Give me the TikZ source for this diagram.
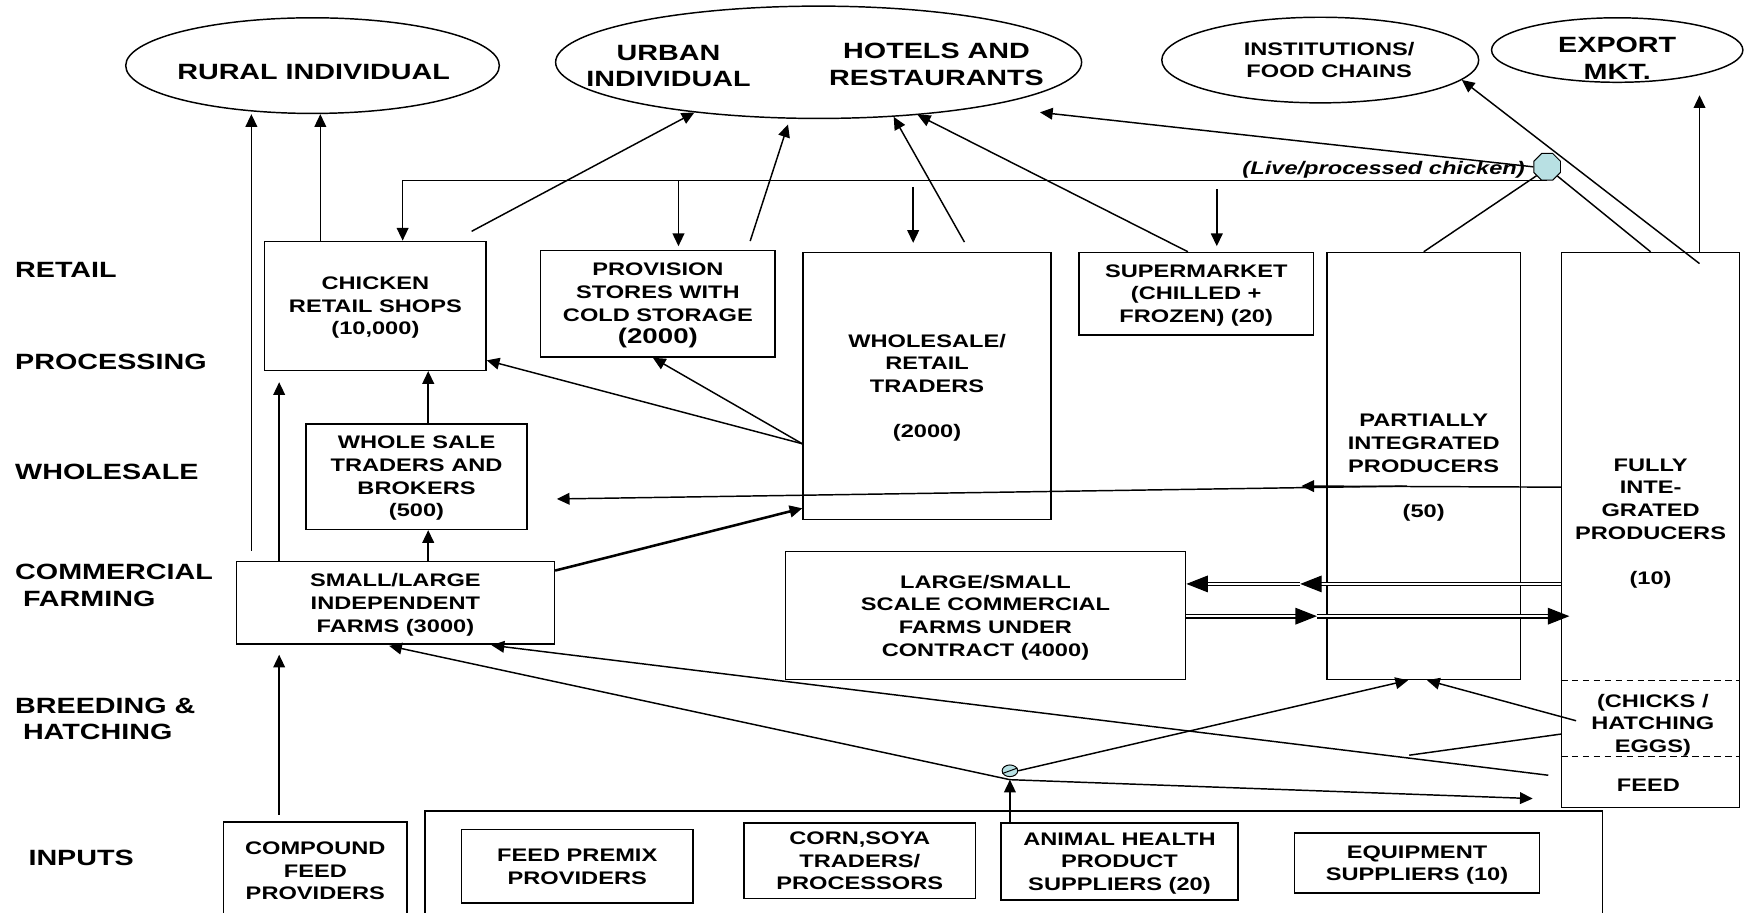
\documentclass[tikz,border=0pt]{standalone}
\usepackage{fontspec}
\setmainfont{Liberation Sans}[FakeStretch=1.3]
\usetikzlibrary{shapes.geometric, arrows.meta, positioning}
\definecolor{knot}{HTML}{B8E0E3}
\newcommand{\lblfont}{\fontsize{11.3}{13.6}\selectfont\bfseries}
\newcommand{\boxfont}{\fontsize{9.3}{11.6}\selectfont\bfseries}

\begin{document}
\begin{tikzpicture}[
    x=0.02cm, y=-0.02cm,
    line width=0.75pt,
    box/.style={draw, align=center, inner sep=0pt, text depth=-2pt, font=\boxfont},
    oval/.style={ellipse, draw, inner sep=0pt},
    lbl/.style={anchor=west, align=left, inner sep=0pt, font=\lblfont},
    arr/.style={-{Triangle[length=6.5pt,width=6pt]}},
    dbl/.style={double, double distance=1.2pt, line width=0.6pt, -{Triangle[length=11pt,width=8.5pt]}},
    knotnode/.style={draw, fill=knot, inner sep=0pt, line width=0.5pt}
  ]
  \useasboundingbox (0,0) rectangle (1568,820);
  \clip (0,0) rectangle (1568,820);

  % consumers
  \node[oval, minimum width=6.72cm, minimum height=1.72cm] (rural) at (281,59) {};
  \node[oval, minimum width=9.46cm, minimum height=2.02cm] (urban) at (736,56) {};
  \node[oval, minimum width=5.70cm, minimum height=1.54cm] (inst) at (1187,54) {};
  \node[oval, minimum width=4.52cm, minimum height=1.16cm] (export) at (1454,45) {};
  \node[font=\lblfont] (ruraltxt) at (282,65) {RURAL INDIVIDUAL};
  \node[font=\lblfont, align=center] (urbantxt) at (601,59.5) {URBAN\\INDIVIDUAL};
  \node[font=\lblfont, align=center] (hoteltxt) at (842,58) {HOTELS AND\\RESTAURANTS};
  \node[font=\boxfont, align=center] (insttxt) at (1195,54) {INSTITUTIONS/\\FOOD CHAINS};
  \node[font=\lblfont, align=center] (exporttxt) at (1454,52.5) {EXPORT\\MKT.};

  % levels
  \node[lbl] (retail) at (13,243) {RETAIL};
  \node[lbl] (processing) at (13,325) {PROCESSING};
  \node[lbl] (wholesale) at (13,424) {WHOLESALE};
  \node[lbl] (farming) at (13,526.5) {COMMERCIAL\\\hspace*{4pt}FARMING};
  \node[lbl] (breeding) at (13,646.5) {BREEDING \&\\\hspace*{4pt}HATCHING};
  \node[lbl] (inputs) at (25,771) {INPUTS};

  % chain
  \node[box, minimum width=3.98cm, minimum height=2.32cm] (chicken) at (337.5,275) {CHICKEN\\RETAIL SHOPS\\(10,000)};
  \node[box, minimum width=4.22cm, minimum height=1.92cm] (provision) at (591.5,273) {PROVISION\\STORES WITH\\COLD STORAGE\\{\fontsize{10.9}{12}\selectfont (2000)}};
  \node[box, minimum width=4.46cm, minimum height=4.80cm] (wrtraders) at (833.5,347) {WHOLESALE/\\RETAIL\\TRADERS\\[11.6pt](2000)};
  \node[box, minimum width=4.22cm, minimum height=1.48cm] (supermkt) at (1075.5,264) {SUPERMARKET\\(CHILLED +\\FROZEN) (20)};
  \node[box, minimum width=3.48cm, minimum height=7.68cm] (partial) at (1280,419) {PARTIALLY\\INTEGRATED\\PRODUCERS\\[11.6pt](50)};
  \node[box, minimum width=3.20cm, minimum height=9.98cm] (fully) at (1484,476.5) {};
  \node[font=\boxfont, align=center] (fullytxt) at (1484,470.5) {FULLY\\INTE-\\GRATED\\PRODUCERS\\[11.6pt](10)};
  \node[font=\boxfont, align=center] (chickstxt) at (1486,652) {(CHICKS /\\HATCHING\\EGGS)};
  \node[font=\boxfont] (feedtxt) at (1482,706) {FEED};
  \draw[dash pattern={on 3.4pt off 2.2pt}] (fully.west |- partial.south) -- (fully.east |- partial.south);
  \draw[dash pattern={on 3.4pt off 2.2pt}] (fully.west |- 0,680) -- (fully.east |- 0,680);
  \node[box, minimum width=3.98cm, minimum height=1.90cm] (wstraders) at (374.5,428.5) {WHOLE SALE\\TRADERS AND\\BROKERS\\(500)};
  \node[box, minimum width=5.72cm, minimum height=1.48cm] (indep) at (355.5,542) {SMALL/LARGE\\INDEPENDENT\\FARMS (3000)};
  \node[box, minimum width=7.20cm, minimum height=2.30cm] (contract) at (886,553.5) {LARGE/SMALL\\SCALE COMMERCIAL\\FARMS UNDER\\CONTRACT (4000)};

  % inputs
  \node[box, minimum width=21.18cm, minimum height=1.96cm] (inputbox) at (911.5,778) {};
  \node[box, minimum width=3.30cm, minimum height=1.76cm] (compound) at (283.5,783) {COMPOUND\\FEED\\PROVIDERS};
  \node[box, minimum width=4.16cm, minimum height=1.32cm] (premix) at (519,779) {FEED PREMIX\\PROVIDERS};
  \node[box, minimum width=4.16cm, minimum height=1.36cm] (corn) at (773,774) {CORN,SOYA\\TRADERS/\\PROCESSORS};
  \node[box, minimum width=4.26cm, minimum height=1.38cm] (animal) at (1006.5,774.5) {ANIMAL HEALTH\\PRODUCT\\SUPPLIERS (20)};
  \node[box, minimum width=4.40cm, minimum height=1.08cm] (equip) at (1274,776) {EQUIPMENT\\SUPPLIERS (10)};

  % junctions
  \node[knotnode, regular polygon, regular polygon sides=8, minimum size=0.52cm] (hub) at (1391,150) {};
  \node[knotnode, ellipse, minimum width=0.28cm, minimum height=0.21cm] (jn) at (908,693) {};
  \draw[line width=0.5pt] (jn.200) -- (jn.20);
  \node[font=\boxfont\itshape] (livetxt) at (1244,153) {(Live/processed chicken)};

  \coordinate (j) at (908,701);
  \coordinate (ruralup) at (226,495);
  \coordinate (chkout) at (424,208);
  \coordinate (urbtip) at (935,101);
  \coordinate (instout) at (1528,237);
  \coordinate (drop2) at (821,168);
  \coordinate (drop3) at (1094,170);
  \coordinate (p1) at (1170,437);
  \coordinate (p2) at (1265,437);
  \coordinate (d1) at (1169,525);
  \coordinate (d2) at (1184,554);
  \coordinate (d3) at (1411,554);
  \coordinate (feedout) at (1392,697);
  \coordinate (feedtip) at (1378,718);
  \coordinate (chickout) at (1417,648);
  \coordinate (chickend) at (1267,679);

  % to consumers
  \draw[arr] (ruralup) -- (ruralup |- rural.south);
  \draw[arr] (288,0 |- chicken.north) -- (288,0 |- rural.south);
  \draw[arr] (chkout) -- (urban.202);
  \draw[arr, shorten <=0.16cm, shorten >=0.1cm] (672,0 |- provision.north) -- (710,0 |- urban.south);
  \draw[arr, shorten <=0.2cm] (872,0 |- wrtraders.north) -- (urban.324);
  \draw[arr] (1068,0 |- supermkt.north) -- (urban.332);
  \draw[arr] (hub.west) -- (urbtip);
  \draw[arr] (instout) -- (inst.352);
  \draw[arr, shorten >=0.22cm] (1528,0 |- fully.north) -- (1528,0 |- export.south);

  % live / processed chicken
  \draw[arr] (hub.south) -| (362,0 |- chicken.north);
  \draw[arr, shorten >=0.06cm] (610,0 |- hub.south) -- (610,0 |- provision.north);
  \draw[arr, shorten >=0.16cm] (drop2) -- (drop2 |- wrtraders.north);
  \draw[arr, shorten >=0.1cm] (drop3) -- (drop3 |- supermkt.north);
  \draw (partial.north) -- (hub.220);
  \draw (fully.north) -- (hub.318);

  % trade
  \draw[arr] (385,0 |- wstraders.north) -- (385,0 |- chicken.south);
  \draw[arr] (385,0 |- indep.north) -- (385,0 |- wstraders.south);
  \draw[arr, shorten >=0.2cm] (251,0 |- indep.north) -- (251,0 |- chicken.south);
  \draw[arr, shorten <=0.12cm, shorten >=0.18cm] (251,0 |- compound.north) -- (251,0 |- indep.south);
  \coordinate (wrleft) at (wrtraders.west |- 0,399);
  \draw[arr] (wrleft) -- (chicken.east |- 0,324);
  \draw[arr] (wrleft) -- (587,0 |- provision.south);
  \draw[arr, line width=1.3pt] (indep.east |- 0,513) -- (wrtraders.west |- 0,457);
  \draw[arr] (fully.west |- 0,438) -- (p1);
  \draw[arr, shorten >=0.52cm] (p2) -- (wstraders.east |- 0,449);

  % contract farming
  \draw[dbl] (fully.west |- d1) -- (d1);
  \draw[dbl] (d1) -- (contract.east |- d1);
  \draw[dbl] (contract.east |- d2) -- (d2);
  \draw[dbl] (d2) -- (d3);

  % chicks and feed
  \draw[arr, shorten >=0.1cm] (j) -- (345,0 |- indep.south);
  \draw[arr, shorten >=0.08cm] (feedout) -- (438,0 |- indep.south);
  \draw[arr] (j) -- (feedtip);
  \draw[arr] (jn.east) -- (1266,0 |- partial.south);
  \draw[arr] (chickout) -- (1283,0 |- partial.south);
  \draw (fully.west |- 0,660) -- (chickend);
  \draw[arr] (908,0 |- animal.north) -- (j);
\end{tikzpicture}
\end{document}
